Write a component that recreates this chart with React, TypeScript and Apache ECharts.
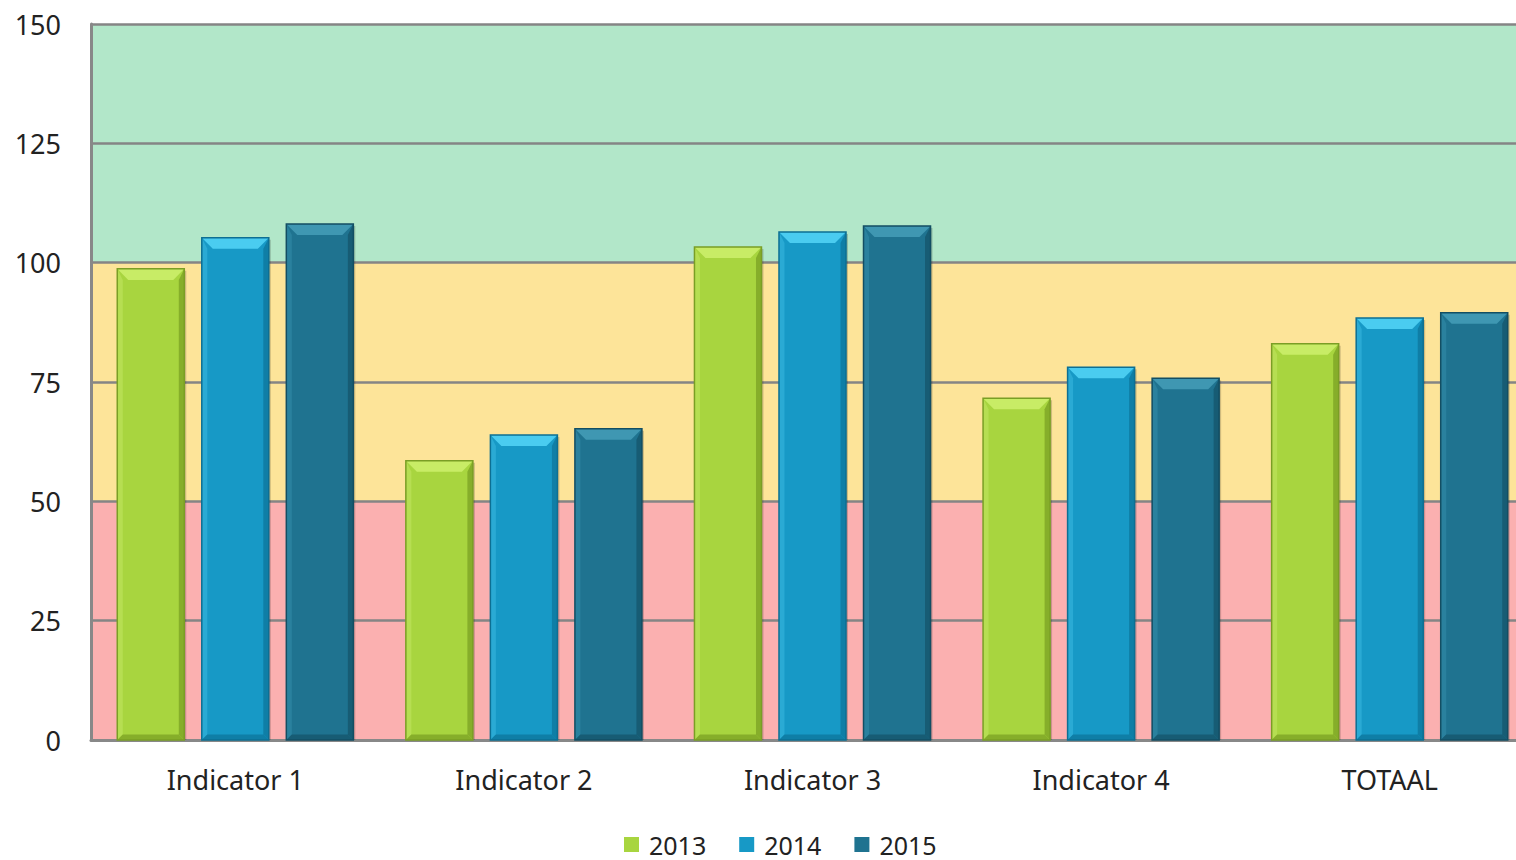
import React, { useEffect, useRef } from "react";
import * as echarts from "echarts";

const categories = ["Indicator 1", "Indicator 2", "Indicator 3", "Indicator 4", "TOTAAL"];
const years = ["2013", "2014", "2015"];
const values2013 = [98.7, 58.5, 103.3, 71.6, 83.0];
const values2014 = [105.2, 63.9, 106.4, 78.1, 88.4];
const values2015 = [108.1, 65.2, 107.7, 75.8, 89.5];
const yTicks = [0, 25, 50, 75, 100, 125, 150];

const palette = [
  { main: "#A8D53F", top: "#C8EC66", side: "#B6DE52", dark: "#86AE2A", border: "#7A9E25" },
  { main: "#1799C6", top: "#4ACCF0", side: "#2AAAD4", dark: "#0F7EA6", border: "#0D6F93" },
  { main: "#1F7390", top: "#3F97B2", side: "#2A819E", dark: "#175C74", border: "#134E63" },
];

export default function App() {
  const ref = useRef<HTMLDivElement>(null);
  useEffect(() => {
    if (!ref.current) return;
    const chart = echarts.init(ref.current, undefined, { renderer: "svg" });
    const all = [values2013, values2014, values2015];
    const series = all.map((vals, k) => ({
      type: "custom",
      name: years[k],
      itemStyle: { color: palette[k].main },
      encode: { x: 0, y: 1 },
      data: vals.map((v, i) => [i, v]),
      renderItem: (params: any, api: any) => {
        const ci = api.value(0);
        const top = api.coord([ci, api.value(1)]);
        const base = api.coord([ci, 0]);
        const band = api.size([1, 0])[0];
        const s = band / 288.5;
        const w = 67 * s;
        const cx = top[0] + (k - 1) * 84.5 * s;
        const x0 = cx - w / 2;
        const x1 = cx + w / 2;
        const y0 = top[1];
        const y1 = base[1];
        const b = Math.min(11 * s, (y1 - y0) / 2);
        const c = palette[k];
        return {
          type: "group",
          children: [
            { type: "rect", shape: { x: x0 + 2, y: y0 + 2, width: w, height: y1 - y0 - 2 }, style: { fill: "rgba(0,0,0,0.18)" } },
            { type: "rect", shape: { x: x0, y: y0, width: w, height: y1 - y0 }, style: { fill: c.main } },
            { type: "polygon", shape: { points: [[x0, y0], [x1, y0], [x1 - b, y0 + b], [x0 + b, y0 + b]] }, style: { fill: c.top } },
            { type: "polygon", shape: { points: [[x0, y0], [x0 + b * 0.5, y0 + b], [x0 + b * 0.5, y1 - b * 0.5], [x0, y1]] }, style: { fill: c.side } },
            { type: "polygon", shape: { points: [[x1, y0], [x1 - b * 0.5, y0 + b], [x1 - b * 0.5, y1 - b * 0.5], [x1, y1]] }, style: { fill: c.dark } },
            { type: "polygon", shape: { points: [[x0, y1], [x1, y1], [x1 - b * 0.5, y1 - b * 0.5], [x0 + b * 0.5, y1 - b * 0.5]] }, style: { fill: c.dark } },
            { type: "rect", shape: { x: x0, y: y0, width: w, height: y1 - y0 }, style: { fill: "none", stroke: c.border, lineWidth: 1.5 } },
          ],
        };
      },
    }));
    chart.setOption({
      animation: false,
      textStyle: { fontFamily: "Noto Sans" },
      grid: { left: 91, top: 24, right: 0, bottom: 120, containLabel: false },
      legend: {
        data: years,
        top: 831,
        left: 624,
        padding: 0,
        icon: "rect",
        itemWidth: 15,
        itemHeight: 15,
        itemGap: 33,
        textStyle: { fontSize: 25, lineHeight: 27, color: "#222", fontFamily: "Noto Sans", padding: [0, 0, 0, 5] },
      },
      xAxis: {
        type: "category",
        data: categories,
        axisTick: { show: false },
        axisLine: { lineStyle: { color: "#888", width: 3 } },
        axisLabel: { fontSize: 27, color: "#222", margin: 26 },
      },
      yAxis: {
        type: "value",
        min: yTicks[0],
        max: yTicks[yTicks.length - 1],
        interval: 25,
        axisLine: { show: true, lineStyle: { color: "#888", width: 3 } },
        axisTick: { show: false },
        axisLabel: { fontSize: 27, color: "#222", margin: 30 },
        splitLine: { lineStyle: { color: "#858585", width: 2.5 } },
        splitArea: {
          show: true,
          areaStyle: { color: ["#FBB0B0", "#FBB0B0", "#FDE499", "#FDE499", "#B2E7C9", "#B2E7C9"] },
        },
      },
      series,
    });
    return () => chart.dispose();
  }, []);
  return (
    <div style={{ position: "absolute", left: 0, top: 0, width: 1516, height: 860, overflow: "hidden" }}>
      <div ref={ref} style={{ position: "absolute", left: 0, top: 0, width: 1534, height: 860 }} />
    </div>
  );
}
